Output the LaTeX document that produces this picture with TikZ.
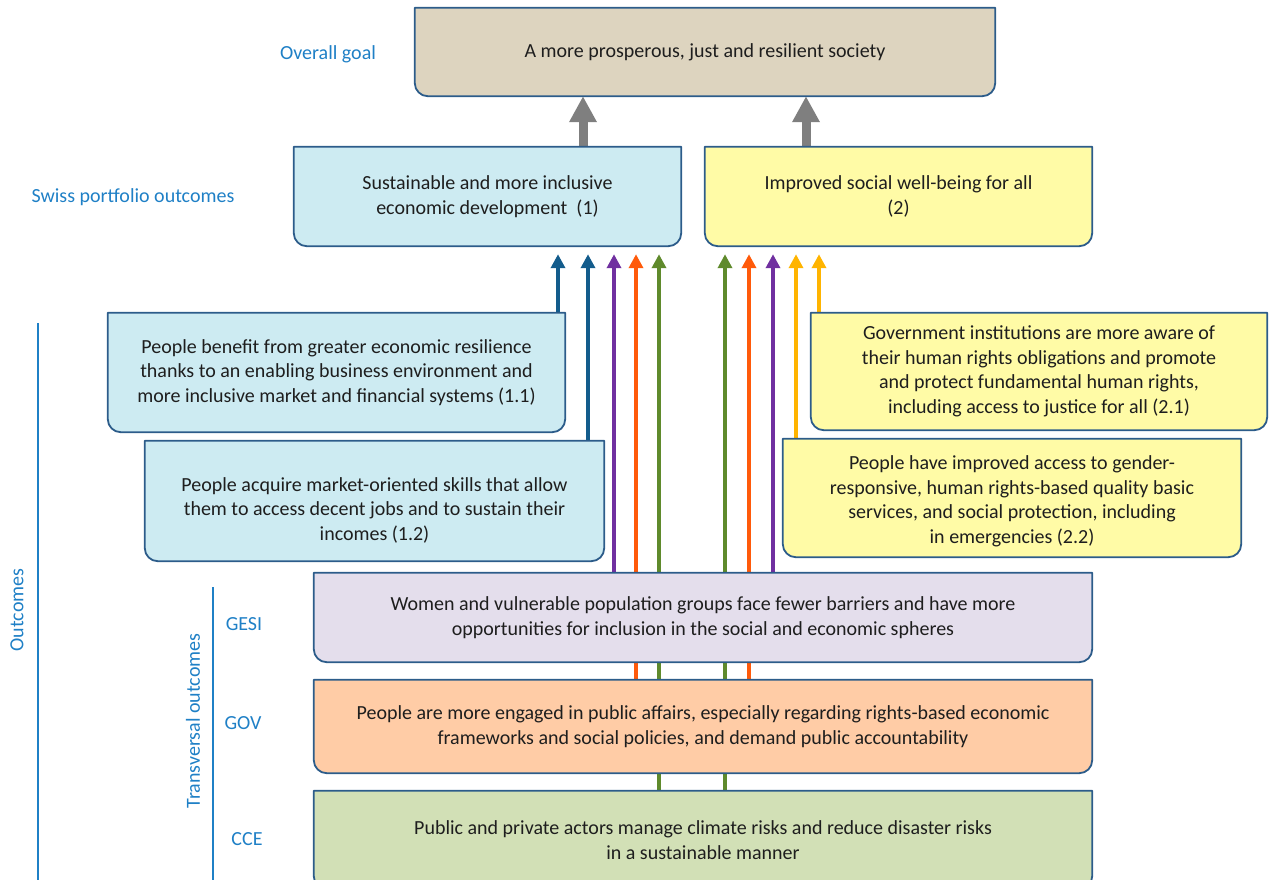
\documentclass[tikz,border=0pt]{standalone}
\usepackage{fontspec}
\setmainfont{Carlito}
\usetikzlibrary{arrows.meta,calc}
\definecolor{txt}{HTML}{1E1E1E}
\definecolor{lbl}{HTML}{1F80C6}
\definecolor{boxborder}{HTML}{2C5C8A}
\definecolor{fgoal}{HTML}{DDD4BF}
\definecolor{fblue}{HTML}{CDEBF2}
\definecolor{fyellow}{HTML}{FFFBA6}
\definecolor{fgesi}{HTML}{E4DEEC}
\definecolor{fgov}{HTML}{FFCCA6}
\definecolor{fcce}{HTML}{D2E0B6}
\definecolor{adblue}{HTML}{135C8C}
\definecolor{apurple}{HTML}{7030A0}
\definecolor{aorange}{HTML}{FF5A0A}
\definecolor{agreen}{HTML}{5F8A2C}
\definecolor{ayellow}{HTML}{FFB400}
\definecolor{agray}{HTML}{7F7F7F}
\pgfdeclarelayer{arrowlayer}
\pgfdeclarelayer{shapelayer}
\pgfsetlayers{arrowlayer,shapelayer,main}
\tikzset{
  box/.style={rectangle, inner sep=0pt, align=center, text=txt,
    font=\fontsize{20}{24.5}\selectfont},
  lab/.style={text=lbl, inner sep=0pt, font=\fontsize{20}{24}\selectfont},
  colarrow/.style={line width=4pt, -{Triangle[width=14pt,length=14pt]}, shorten >=8pt},
  bigarrow/.style={line width=9pt, draw=agray, -{Triangle[width=26pt,length=26pt]}},
  boxline/.style={draw=boxborder, line width=1.8pt, line join=round},
  bracketline/.style={draw=lbl, line width=2.6pt},
}
\newcommand\boxshape[2]{%
  \begin{pgfonlayer}{shapelayer}
    \path[boxline, fill=#2] (#1.north west) -- (#1.north east)
      -- ([yshift=13pt]#1.south east) arc[start angle=0, end angle=-90, radius=13pt]
      -- ([xshift=13pt]#1.south west) arc[start angle=270, end angle=180, radius=13pt]
      -- cycle;
  \end{pgfonlayer}}
\begin{document}
\begin{tikzpicture}[x=1pt,y=1pt]
\useasboundingbox (0,0) rectangle (1269,-879);

% boxes
\node[box, minimum width=580pt, minimum height=88pt] (goal) at (705,-52)
  {A more prosperous, just and resilient society};
\boxshape{goal}{fgoal}
\node[box, minimum width=387pt, minimum height=99pt] (o1) at (487.5,-196.5)
  {Sustainable and more inclusive\\economic development\ \ (1)};
\boxshape{o1}{fblue}
\node[box, minimum width=387pt, minimum height=99pt] (o2) at (898.5,-196.5)
  {Improved social well-being for all\\(2)};
\boxshape{o2}{fyellow}
\node[box, minimum width=457pt, minimum height=119pt] (b11) at (336.5,-372.5)
  {People benefit from greater economic resilience\\thanks to an enabling business environment and\\more inclusive market and financial systems (1.1)};
\boxshape{b11}{fblue}
\node[box, minimum width=459pt, minimum height=120pt] (b12) at (374.5,-501)
  {\rule{0pt}{32pt}People acquire market-oriented skills that allow\\them to access decent jobs and to sustain their\\incomes (1.2)};
\boxshape{b12}{fblue}
\node[box, minimum width=456pt, minimum height=117pt] (b21) at (1039,-371.5)
  {Government institutions are more aware of\\their human rights obligations and promote\\and protect fundamental human rights,\\including access to justice for all (2.1)};
\boxshape{b21}{fyellow}
\node[box, minimum width=458pt, minimum height=118pt] (b22) at (1012,-498)
  {\rule{0pt}{20pt}People have improved access to gender-\\responsive, human rights-based quality basic\\services, and social protection, including\\in emergencies (2.2)};
\boxshape{b22}{fyellow}
\node[box, minimum width=778pt, minimum height=89pt] (gesi) at (703,-617.5)
  {Women and vulnerable population groups face fewer barriers and have more\\opportunities for inclusion in the social and economic spheres};
\boxshape{gesi}{fgesi}
\node[box, minimum width=778pt, minimum height=93pt] (gov) at (703,-726.5)
  {People are more engaged in public affairs, especially regarding rights-based economic\\frameworks and social policies, and demand public accountability};
\boxshape{gov}{fgov}
\node[box, minimum width=778pt, minimum height=98pt] (cce) at (703,-840)
  {Public and private actors manage climate risks and reduce disaster risks\\in a sustainable manner};
\boxshape{cce}{fcce}

% column positions
\coordinate (g1) at (583,0);
\coordinate (g2) at (806,0);
\coordinate (c1) at (558,0);
\coordinate (c2) at (588,0);
\coordinate (c3) at (614,0);
\coordinate (c4) at (636,0);
\coordinate (c5) at (659,0);
\coordinate (d1) at (725,0);
\coordinate (d2) at (749,0);
\coordinate (d3) at (773,0);
\coordinate (d4) at (796,0);
\coordinate (d5) at (819,0);

% arrows
\begin{pgfonlayer}{arrowlayer}
\draw[bigarrow] (o1.north -| g1) -- (goal.south -| g1);
\draw[bigarrow] (o2.north -| g2) -- (goal.south -| g2);
\draw[colarrow, draw=adblue] (b11.north -| c1) -- (o1.south -| c1);
\draw[colarrow, draw=adblue] (b12.north -| c2) -- (o1.south -| c2);
\draw[colarrow, draw=apurple] (gesi.north -| c3) -- (o1.south -| c3);
\draw[colarrow, draw=aorange] (gov.north -| c4) -- (o1.south -| c4);
\draw[colarrow, draw=agreen] (cce.north -| c5) -- (o1.south -| c5);
\draw[colarrow, draw=agreen] (cce.north -| d1) -- (o2.south -| d1);
\draw[colarrow, draw=aorange] (gov.north -| d2) -- (o2.south -| d2);
\draw[colarrow, draw=apurple] (gesi.north -| d3) -- (o2.south -| d3);
\draw[colarrow, draw=ayellow] (b22.north -| d4) -- (o2.south -| d4);
\draw[colarrow, draw=ayellow] (b21.north -| d5) -- (o2.south -| d5);
\end{pgfonlayer}

% labels
\node[lab] (lgoal) at (328,-54) {Overall goal};
\node[lab] (lswiss) at (133,-197) {Swiss portfolio outcomes};
\node[lab, rotate=90] (lout) at (17,-610) {Outcomes};
\node[lab, rotate=90] (ltrans) at (193,-721) {Transversal outcomes};
\node[lab] (lgesi) at (244,-624) {GESI};
\node[lab] (lgov) at (243,-723) {GOV};
\node[lab] (lcce) at (247,-839) {CCE};
\coordinate (ot) at (38,-323);
\coordinate (ob) at (38,-885);
\coordinate (tt) at (213,-587);
\coordinate (tb) at (213,-885);
\draw[bracketline] (ot) -- (ob);
\draw[bracketline] (tt) -- (tb);
\end{tikzpicture}
\end{document}
